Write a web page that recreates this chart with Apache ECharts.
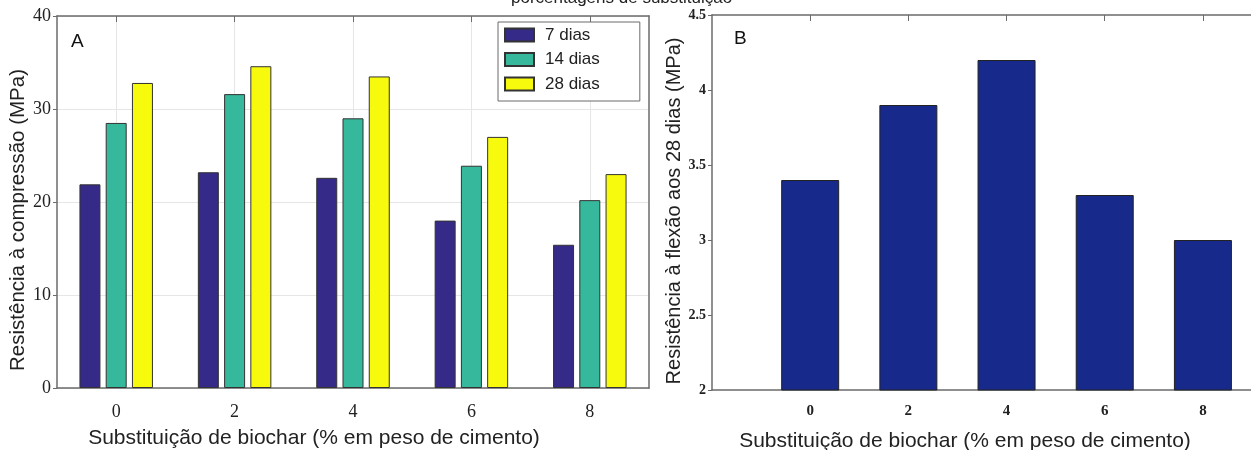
<!DOCTYPE html>
<html lang="pt">
<head>
<meta charset="UTF-8">
<title>Resistência</title>
<style>
  html, body { margin: 0; padding: 0; background: #fff; }
  #box { width: 1251px; height: 450px; }
</style>
<script src="https://cdn.jsdelivr.net/npm/echarts@6/dist/echarts.min.js"></script>
</head>
<body>
<div id="box"></div>
<script>
// substituição de biochar (%)
const substituicao = [0, 2, 4, 6, 8];
// resistência à compressão (MPa)
const dias7 = [21.9, 23.2, 22.6, 18.0, 15.4];
const dias14 = [28.5, 31.6, 29.0, 23.9, 20.2];
const dias28 = [32.8, 34.6, 33.5, 27.0, 23.0];
// resistência à flexão aos 28 dias (MPa)
const flexao = [3.4, 3.9, 4.2, 3.3, 3.0];

const serieNomes = ['7 dias', '14 dias', '28 dias'];
const cores = ['#352a87', '#35b89b', '#f8fa0d'];

const chart = echarts.init(document.getElementById('box'));

function pares(vals) {
    return substituicao.map((x, i) => [x, vals[i]]);
}

const serif = 'Liberation Serif';
const sans = 'Liberation Sans';
const frame = '#6b6b6b';
const linha = { onZero: false, lineStyle: { color: frame, width: 1.5 } };

const option = {
    animation: false,
    title: [
        { text: 'porcentagens de substituição', left: 506, top: -15,
          textStyle: { fontFamily: sans, fontSize: 17, fontWeight: 'normal', color: '#222' } },
        { text: 'A', left: 66, top: 27,
          textStyle: { fontFamily: sans, fontSize: 19, fontWeight: 'normal', color: '#111' } },
        { text: 'B', left: 729, top: 24,
          textStyle: { fontFamily: sans, fontSize: 19, fontWeight: 'normal', color: '#111' } }
    ],
    legend: {
        data: serieNomes,
        orient: 'vertical',
        left: 498,
        top: 22,
        padding: [4, 40, 8, 6],
        itemWidth: 29,
        itemHeight: 13,
        itemGap: 6.5,
        borderColor: frame,
        borderWidth: 1,
        backgroundColor: '#fff',
        icon: 'rect',
        textStyle: { fontFamily: sans, fontSize: 17, color: '#222', lineHeight: 18, padding: [0, 0, 0, 6] }
    },
    grid: [
        { left: 57, top: 16, width: 592, bottom: 62, outerBoundsMode: 'none' },
        { left: 712, top: 15, width: 540, bottom: 60, outerBoundsMode: 'none' }
    ],
    xAxis: [
        {
            gridIndex: 0, type: 'value', position: 'bottom', min: -1, max: 9,
            name: 'Substituição de biochar (% em peso de cimento)',
            nameLocation: 'middle', nameGap: 40,
            nameTextStyle: { fontFamily: sans, fontSize: 21, color: '#222', padding: [0, 78, 0, 0] },
            axisLine: linha,
            axisTick: { show: false, customValues: substituicao },
            axisLabel: { customValues: substituicao, fontFamily: serif, fontSize: 18, color: '#222', margin: 15 },
            splitLine: { show: true, lineStyle: { color: '#e6e6e6' } }
        },
        {
            gridIndex: 0, type: 'value', position: 'top', min: -1, max: 9,
            axisLine: linha,
            axisTick: { inside: true, length: 6, customValues: substituicao, lineStyle: { color: frame } },
            axisLabel: { show: false },
            splitLine: { show: false }
        },
        {
            gridIndex: 1, type: 'value', position: 'bottom', min: -2, max: 9,
            name: 'Substituição de biochar (% em peso de cimento)',
            nameLocation: 'middle', nameGap: 41,
            nameTextStyle: { fontFamily: sans, fontSize: 21, color: '#222', padding: [0, 34, 0, 0] },
            axisLine: linha,
            axisTick: { show: false, customValues: substituicao },
            axisLabel: { customValues: substituicao, fontFamily: serif, fontSize: 15, fontWeight: 'bold', color: '#222', margin: 14 },
            splitLine: { show: false }
        },
        {
            gridIndex: 1, type: 'value', position: 'top', min: -2, max: 9,
            axisLine: linha,
            axisTick: { inside: true, length: 6, customValues: substituicao, lineStyle: { color: frame } },
            axisLabel: { show: false },
            splitLine: { show: false }
        }
    ],
    yAxis: [
        {
            gridIndex: 0, type: 'value', position: 'left', min: 0, max: 40, interval: 10,
            name: 'Resistência à compressão (MPa)',
            nameLocation: 'middle', nameGap: 23,
            nameTextStyle: { fontFamily: sans, fontSize: 20.5, color: '#222', padding: [0, 36, 0, 0] },
            axisLine: Object.assign({ show: true }, linha),
            axisTick: { show: true, length: 4, lineStyle: { color: frame } },
            axisLabel: { fontFamily: serif, fontSize: 18, color: '#222', margin: 6, padding: [10, 0, 0, 0] },
            splitLine: { show: true, lineStyle: { color: '#e6e6e6' } }
        },
        {
            gridIndex: 0, type: 'value', position: 'right', min: 0, max: 40, interval: 10,
            axisLine: Object.assign({ show: true }, linha),
            axisTick: { show: false },
            axisLabel: { show: false },
            splitLine: { show: false }
        },
        {
            gridIndex: 1, type: 'value', position: 'left', min: 2, max: 4.5, interval: 0.5,
            name: 'Resistência à flexão aos 28 dias (MPa)',
            nameLocation: 'middle', nameGap: 18,
            nameTextStyle: { fontFamily: sans, fontSize: 20, color: '#222', padding: [0, 17, 0, 0] },
            axisLine: Object.assign({ show: true }, linha),
            axisTick: { show: true, length: 4, lineStyle: { color: frame } },
            axisLabel: { fontFamily: serif, fontSize: 14, fontWeight: 'bold', color: '#222', margin: 6, padding: [10, 0, 0, 0] },
            splitLine: { show: false }
        }
    ],
    series: [
        {
            name: serieNomes[0], type: 'bar', xAxisIndex: 0, yAxisIndex: 0,
            data: pares(dias7), barWidth: 21, barGap: '25%',
            itemStyle: { color: cores[0], borderColor: '#333', borderWidth: 1 }
        },
        {
            name: serieNomes[1], type: 'bar', xAxisIndex: 0, yAxisIndex: 0,
            data: pares(dias14), barWidth: 21, barGap: '25%',
            itemStyle: { color: cores[1], borderColor: '#333', borderWidth: 1 }
        },
        {
            name: serieNomes[2], type: 'bar', xAxisIndex: 0, yAxisIndex: 0,
            data: pares(dias28), barWidth: 21, barGap: '25%',
            itemStyle: { color: cores[2], borderColor: '#333', borderWidth: 1 }
        },
        {
            name: 'flexao', type: 'bar', xAxisIndex: 2, yAxisIndex: 2,
            data: pares(flexao), barWidth: 58,
            itemStyle: { color: '#172a8b', borderColor: '#222', borderWidth: 1 }
        }
    ]
};

chart.setOption(option);
</script>
</body>
</html>
